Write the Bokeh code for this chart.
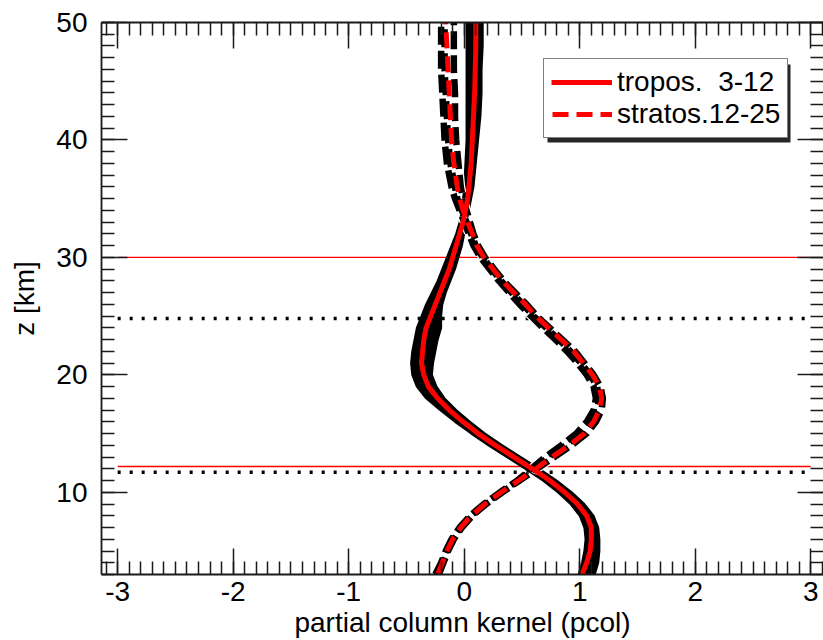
from bokeh.plotting import figure
from bokeh.models import (LinearAxis, SingleIntervalTicker, Legend, LegendItem,
                          BoxAnnotation, Range1d, ColumnDataSource,
                          PrintfTickFormatter, CustomJSTickFormatter)
from bokeh.embed import file_html
from bokeh.resources import INLINE

FONT = "Liberation Sans"
INK = "#1a1a1a"

# altitude grid (km)
z_km = [3, 4, 5, 6, 7, 8, 9, 10, 11, 12, 13, 14, 15, 16, 17, 18, 19, 20, 21, 22,
        23, 24, 25, 26, 27, 28, 29, 30, 31, 32, 33, 34, 35, 36, 38, 40, 42, 44,
        46, 48, 50]

# tropospheric partial column kernel (3-12 km), reference case
tropos_kernel = [1.02, 1.06, 1.09, 1.10, 1.10, 1.06, 0.98, 0.87, 0.74, 0.59,
                 0.43, 0.27, 0.12, -0.01, -0.13, -0.23, -0.31, -0.35, -0.37, -0.36,
                 -0.35, -0.33, -0.29, -0.25, -0.21, -0.17, -0.13, -0.10, -0.07, -0.04,
                 -0.01, 0.01, 0.03, 0.04, 0.06, 0.07, 0.08, 0.09, 0.095, 0.10, 0.10]

# envelope of the tropospheric kernels of all other cases
tropos_spread_lo = [0.99, 1.02, 1.04, 1.05, 1.04, 1.00, 0.92, 0.81, 0.68, 0.53,
                    0.37, 0.21, 0.06, -0.08, -0.21, -0.33, -0.41, -0.45, -0.46, -0.45,
                    -0.43, -0.41, -0.37, -0.33, -0.28, -0.23, -0.19, -0.15, -0.11, -0.07,
                    -0.04, -0.02, -0.01, 0.00, 0.01, 0.02, 0.02, 0.02, 0.02, 0.02, 0.02]
tropos_spread_hi = [1.13, 1.16, 1.17, 1.17, 1.16, 1.12, 1.04, 0.93, 0.80, 0.65,
                    0.49, 0.33, 0.18, 0.05, -0.07, -0.17, -0.24, -0.28, -0.27, -0.25,
                    -0.23, -0.20, -0.20, -0.19, -0.16, -0.12, -0.08, -0.05, -0.02, 0.00,
                    0.02, 0.04, 0.06, 0.08, 0.10, 0.12, 0.14, 0.15, 0.15, 0.16, 0.16]

# stratospheric partial column kernel (12-25 km), reference case
stratos_kernel = [-0.23, -0.19, -0.15, -0.10, -0.03, 0.06, 0.18, 0.32, 0.47, 0.62,
                  0.76, 0.91, 1.04, 1.12, 1.17, 1.19, 1.17, 1.11, 1.03, 0.95,
                  0.84, 0.73, 0.62, 0.53, 0.43, 0.33, 0.25, 0.17, 0.11, 0.07,
                  0.03, -0.01, -0.04, -0.06, -0.09, -0.11, -0.12, -0.13, -0.14, -0.15, -0.16]

# stratospheric kernels of the other cases
stratos_case_a = [-0.25, -0.20, -0.16, -0.11, -0.04, 0.05, 0.17, 0.31, 0.46, 0.58,
                  0.70, 0.84, 0.97, 1.06, 1.12, 1.14, 1.12, 1.06, 0.98, 0.89,
                  0.79, 0.68, 0.58, 0.48, 0.39, 0.30, 0.22, 0.14, 0.08, 0.04,
                  0.00, -0.04, -0.08, -0.11, -0.15, -0.17, -0.18, -0.19, -0.20, -0.20, -0.20]
stratos_case_b = [-0.24, -0.19, -0.15, -0.10, -0.03, 0.06, 0.18, 0.32, 0.47, 0.60,
                  0.73, 0.88, 1.01, 1.09, 1.15, 1.17, 1.15, 1.09, 1.01, 0.92,
                  0.82, 0.71, 0.60, 0.51, 0.41, 0.32, 0.24, 0.16, 0.10, 0.06,
                  0.02, -0.02, -0.06, -0.08, -0.12, -0.14, -0.15, -0.16, -0.17, -0.17, -0.17]
stratos_case_c = [-0.22, -0.18, -0.14, -0.09, -0.02, 0.07, 0.19, 0.33, 0.48, 0.63,
                  0.78, 0.93, 1.06, 1.14, 1.19, 1.20, 1.18, 1.12, 1.04, 0.96,
                  0.85, 0.74, 0.63, 0.54, 0.44, 0.34, 0.26, 0.18, 0.12, 0.08,
                  0.05, 0.02, -0.01, -0.03, -0.05, -0.07, -0.08, -0.08, -0.09, -0.09, -0.09]

# layer boundaries (km)
red_levels = [30.0, 12.2]
dotted_levels = [24.8, 11.7]
level_x_span = (-3.0, 3.0)

src = ColumnDataSource(dict(z=z_km, trop=tropos_kernel, lo=tropos_spread_lo,
                            hi=tropos_spread_hi, strat=stratos_kernel,
                            sa=stratos_case_a, sb=stratos_case_b, sc=stratos_case_c))

p = figure(width=823, height=640, output_backend="svg", toolbar_location=None,
           x_range=Range1d(-3.14, 3.11), y_range=Range1d(3, 50),
           min_border_left=101, min_border_right=0, min_border_top=22,
           min_border_bottom=65)
p.outline_line_color = None
p.background_fill_color = "white"
p.border_fill_color = "white"
p.xgrid.visible = False
p.ygrid.visible = False


def style_axis(ax, ticker, labels=True):
    ax.ticker = ticker
    ax.axis_line_color = INK
    ax.axis_line_width = 1.8
    ax.major_tick_line_color = INK
    ax.major_tick_line_width = 1.5
    ax.minor_tick_line_color = INK
    ax.minor_tick_line_width = 1.5
    ax.major_tick_in = 26
    ax.major_tick_out = 0
    ax.minor_tick_in = 13
    ax.minor_tick_out = 0
    ax.major_label_text_font = FONT
    ax.major_label_text_color = "black"
    ax.major_label_text_font_size = "28px"
    ax.axis_label_text_font = FONT
    ax.axis_label_text_font_style = "normal"
    ax.axis_label_text_font_size = "28px"
    ax.axis_label_text_color = "black"
    if labels:
        ax.formatter = PrintfTickFormatter(format="%d")
    else:
        # mirrored axes carry ticks only
        ax.formatter = CustomJSTickFormatter(code="return ''")
        ax.major_label_standoff = 0


x_ticks = lambda: SingleIntervalTicker(interval=1, num_minor_ticks=10)
y_ticks = lambda: SingleIntervalTicker(interval=10, num_minor_ticks=10)

xb = p.xaxis[0]
style_axis(xb, x_ticks())
xb.major_label_standoff = 7
xb.axis_label = "partial column kernel (pcol)"
xb.axis_label_standoff = 3

yl = p.yaxis[0]
style_axis(yl, y_ticks())
yl.major_label_standoff = 14
yl.axis_label = "z [km]"
yl.axis_label_standoff = 13

xt = LinearAxis()
style_axis(xt, x_ticks(), labels=False)
p.add_layout(xt, "above")
yr = LinearAxis()
style_axis(yr, y_ticks(), labels=False)
yr.axis_line_color = None
p.add_layout(yr, "right")

# layer boundary lines
p.segment(x0=[level_x_span[0]] * len(red_levels), x1=[level_x_span[1]] * len(red_levels),
          y0=red_levels, y1=red_levels, line_color="red", line_width=1.4)
p.segment(x0=[level_x_span[0]] * len(dotted_levels), x1=[level_x_span[1]] * len(dotted_levels),
          y0=dotted_levels, y1=dotted_levels, line_color="black", line_width=3.5,
          line_dash="3 9")

# tropospheric ensemble band
p.harea(y="z", x1="lo", x2="hi", source=src, fill_color="black")
p.line(x="lo", y="z", source=src, line_color="black", line_width=2)
p.line(x="hi", y="z", source=src, line_color="black", line_width=2)

# stratospheric ensemble members: white rims first, then the black dashes
members = ("sa", "sb", "sc")
for col in members:
    p.line(x=col, y="z", source=src, line_color="white", line_width=9,
           line_dash="18 6")
for col in members:
    p.line(x=col, y="z", source=src, line_color="black", line_width=6.5,
           line_dash="18 6")

r_trop = p.line(x="trop", y="z", source=src, line_color="red", line_width=5)
r_strat = p.line(x="strat", y="z", source=src, line_color="red", line_width=5,
                 line_dash="0 1 16 7")

# drop shadow behind the legend box
shadow = BoxAnnotation(left=446, right=689, bottom=432, top=510,
                       left_units="screen", right_units="screen",
                       bottom_units="screen", top_units="screen",
                       fill_color="black", fill_alpha=0.85, line_color=None)
p.add_layout(shadow)

legend = Legend(items=[LegendItem(label="tropos.\u00a0 3-12", renderers=[r_trop]),
                       LegendItem(label="stratos.12-25", renderers=[r_strat])],
                location=(442, 436))
legend.glyph_width = 61
legend.glyph_height = 32
legend.label_height = 32
legend.label_standoff = 5
legend.padding = 7
legend.spacing = 0
legend.margin = 0
legend.border_line_color = "black"
legend.border_line_width = 1.5
legend.background_fill_color = "white"
legend.background_fill_alpha = 1.0
legend.label_text_font = FONT
legend.label_text_font_size = "28px"
legend.label_text_color = "black"
p.add_layout(legend)

open("out.html", "w").write(file_html(p, INLINE))
